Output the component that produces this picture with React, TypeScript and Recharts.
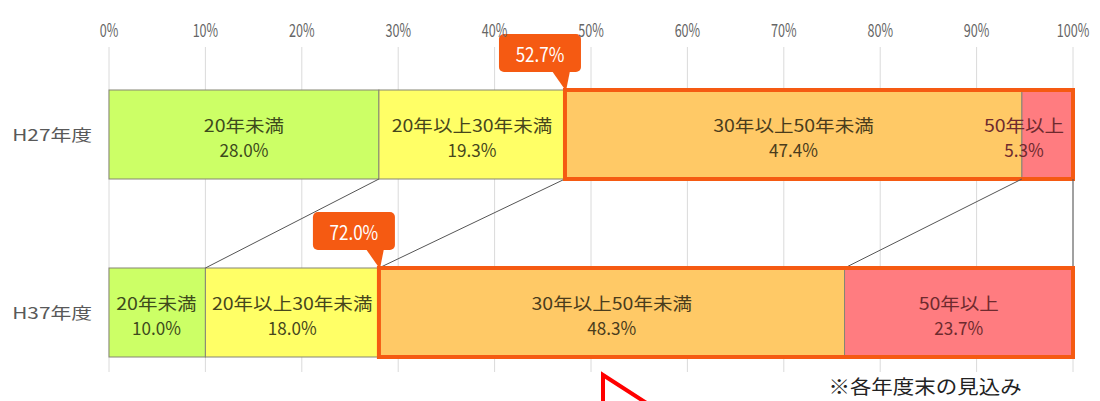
import React from "react";
import { BarChart, Bar, XAxis, YAxis, CartesianGrid } from "recharts";

// 年度別 経過年数の構成比 (%)
const years = ["H27年度", "H37年度"];
const seriesNames = ["20年未満", "20年以上30年未満", "30年以上50年未満", "50年以上"];
const under20 = [28.0, 10.0];
const from20to30 = [19.3, 18.0];
const from30to50 = [47.4, 48.3];
const over50 = [5.3, 23.7];
const xTicks = [0, 10, 20, 30, 40, 50, 60, 70, 80, 90, 100];
const noteText = "※各年度末の見込み";

const keys = ["s0", "s1", "s2", "s3"];
const fills = ["#ccff66", "#ffff66", "#ffc966", "#ff7c80"];
const textColors = ["#3d4a1c", "#46461c", "#4a3c1c", "#6e2a2e"];
const ORANGE = "#f55a12";
const FONT = "'Noto Sans CJK JP', 'Noto Sans', sans-serif";

const data = years.map((year, i) => ({
  year,
  s0: under20[i],
  s1: from20to30[i],
  s2: from30to50[i],
  s3: over50[i],
}));

type Box = { x: number; y: number; width: number; height: number };
// rects drawn so far, per series, per row (used for connector lines / highlight)
const drawn: Record<string, Box[]> = {};

const Stretch = ({ x, y, sx, size, fill, anchor = "middle", children }: any) => (
  <text
    transform={`translate(${x},${y}) scale(${sx},1)`}
    textAnchor={anchor}
    dominantBaseline="central"
    fontSize={size}
    fill={fill}
    fontFamily={FONT}
  >
    {children}
  </text>
);

const Callout = ({ tipX, tipY, label }: { tipX: number; tipY: number; label: string }) => {
  const right = tipX + 16;
  const left = right - 82;
  const bottom = tipY - 18;
  const top = bottom - 38;
  return (
    <g>
      <rect x={left} y={top} width={right - left} height={bottom - top} rx={5} fill={ORANGE} />
      <polygon
        points={`${tipX - 13},${bottom - 1} ${tipX + 5},${bottom - 1} ${tipX + 1},${tipY + 1}`}
        fill={ORANGE}
      />
      <Stretch x={(left + right) / 2} y={(top + bottom) / 2} sx={0.85} size={20} fill="#ffffff">
        {label}
      </Stretch>
    </g>
  );
};

const makeShape = (k: number) => (props: any) => {
  const { x, y, width, height, index, payload } = props;
  const key = keys[k];
  const row = typeof index === "number" ? index : years.indexOf(payload.year);
  (drawn[key] = drawn[key] || [])[row] = { x, y, width, height };
  const value: number = payload[key];
  const cy = y + height / 2;
  const cx = Math.min(x + width / 2, x + width - 49);
  const above = row > 0 ? drawn[key][row - 1] : undefined;
  const start = k === keys.length - 1 ? drawn[keys[k - 1]]?.[row] : undefined;

  return (
    <g>
      <rect x={x} y={y} width={width} height={height} fill={fills[k]} stroke="#858575" strokeWidth={1} />
      {above && k > 0 && (
        <line x1={x} y1={y} x2={above.x} y2={above.y + above.height} stroke="#555" strokeWidth={1} />
      )}
      {above && k === keys.length - 1 && (
        <line
          x1={x + width}
          y1={y}
          x2={above.x + above.width}
          y2={above.y + above.height}
          stroke="#555"
          strokeWidth={1}
        />
      )}
      <Stretch x={cx} y={cy - 10} sx={1.15} size={17} fill={textColors[k]}>
        {seriesNames[k]}
      </Stretch>
      <Stretch x={cx} y={cy + 15} sx={0.95} size={18} fill={textColors[k]}>
        {`${value.toFixed(1)}%`}
      </Stretch>
      {start && (
        <>
          <rect
            x={start.x}
            y={y}
            width={x + width - start.x}
            height={height}
            fill="none"
            stroke={ORANGE}
            strokeWidth={4}
          />
          <Callout tipX={start.x} tipY={y} label={`${(payload[keys[k - 1]] + value).toFixed(1)}%`} />
        </>
      )}
    </g>
  );
};

const XTick = ({ x, y, payload }: any) => (
  <text
    transform={`translate(${x},${y + 3}) scale(0.7,1)`}
    textAnchor="middle"
    fontSize={18}
    fill="#666666"
    fontFamily={FONT}
  >
    {`${payload.value}%`}
  </text>
);

const YTick = ({ x, y, payload }: any) => (
  <Stretch x={x} y={y} sx={1.3} size={16} fill="#595959" anchor="end">
    {payload.value}
  </Stretch>
);

const App = () => {
  return (
    <div style={{ position: "absolute", left: 0, top: 0, width: 1100, height: 401, background: "#fff" }}>
      <BarChart
        width={1100}
        height={401}
        data={data}
        layout="vertical"
        margin={{ top: 0, right: 27, left: 9, bottom: 0 }}
        barSize={89}
      >
        <CartesianGrid vertical={true} horizontal={false} stroke="#dadada" y={47} height={325} />
        <XAxis
          type="number"
          orientation="top"
          domain={[0, 100]}
          ticks={xTicks}
          height={45}
          axisLine={false}
          tickLine={false}
          tickMargin={5}
          tick={<XTick />}
        />
        <YAxis
          type="category"
          dataKey="year"
          width={100}
          axisLine={false}
          tickLine={false}
          tickMargin={11}
          tick={<YTick />}
        />
        {keys.map((key, k) => (
          <Bar key={key} dataKey={key} stackId="a" isAnimationActive={false} shape={makeShape(k)} />
        ))}
      </BarChart>
      <svg
        width={1100}
        height={401}
        style={{ position: "absolute", left: 0, top: 0, pointerEvents: "none" }}
      >
        <Stretch x={925} y={386} sx={1.13} size={19} fill="#222222">
          {noteText}
        </Stretch>
        <polyline points="603,404 603,375 648,404" fill="none" stroke="#ff0000" strokeWidth={4} />
      </svg>
    </div>
  );
};

export default App;
